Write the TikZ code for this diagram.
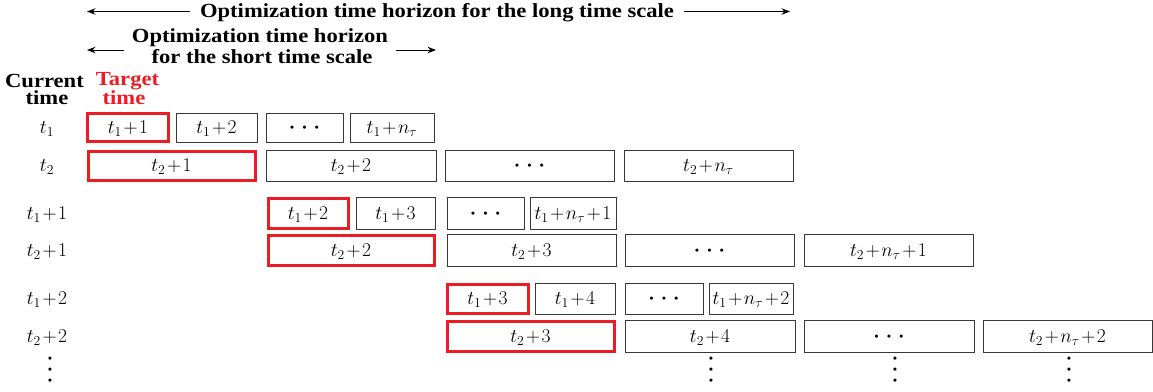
\RequirePackage{fix-cm}
\documentclass[tikz,border=0pt]{standalone}
\usepackage{fontspec}
\newfontfamily\hdrfont{Liberation Serif}[FakeStretch=1.13]
\usetikzlibrary{arrows.meta}
\definecolor{tred}{RGB}{237,28,36}
\newcommand{\pl}{\mkern1.5mu{+}\mkern1.5mu}
\newcommand{\sdot}{{\fontsize{7.5}{7.5}\selectfont$\bullet$}}
\newcommand{\hdotz}{\raisebox{4pt}{\sdot\kern8pt\sdot\kern8pt\sdot}}
\newcommand{\vdotz}{\vbox{\baselineskip=11pt\lineskiplimit=-100pt\hbox{\sdot}\hbox{\sdot}\hbox{\sdot}}}
\begin{document}
\begin{tikzpicture}[x=1pt,y=-1pt,
  hdr/.style={font=\hdrfont\bfseries\fontsize{20}{21.5}\selectfont, inner sep=0pt},
  bx/.style={draw=black!78, line width=0.95pt, inner sep=0pt, text height=13.5pt, text depth=1pt, font=\fontsize{19.5}{21}\selectfont},
  rbx/.style={bx, draw=tred, line width=3pt},
  lbl/.style={inner sep=0pt, text height=13.5pt, text depth=1pt, font=\fontsize{19.5}{21}\selectfont},
  arr/.style={-{Stealth[length=8.5pt,width=6.5pt]}, line width=1pt},
  vd/.style={inner sep=0pt}]
\useasboundingbox (0,0) rectangle (1153,391);

% headers
\node[hdr, anchor=base, inner xsep=10pt] (lt) at (437,17) {Optimization time horizon for the long time scale};
\coordinate (ltl) at (87,11.5);
\coordinate (ltr) at (790,11.5);
\draw[arr] (lt.west |- ltl) -- (ltl);
\draw[arr] (lt.east |- ltr) -- (ltr);

\node[hdr, anchor=base, inner xsep=8pt] (sh1) at (260,42) {Optimization time horizon};
\node[hdr, anchor=base] (sh2) at (262,63.5) {for the short time scale};
\coordinate (shl) at (87,50);
\coordinate (shr) at (436,50);
\draw[arr] (sh1.west |- shl) -- (shl);
\draw[arr] (sh1.east |- shr) -- (shr);

\node[hdr, anchor=base] (cur1) at (44.5,87) {Current};
\node[hdr, anchor=base, text height=12pt] (cur2) at (47,104) {time};
\node[hdr, anchor=base, text=tred] (tg1) at (127.5,85) {Target};
\node[hdr, anchor=base, text=tred, text height=12pt] (tg2) at (124,104) {time};

% left labels
\node[lbl] (l1) at (47,127.5) {$t_1$};
\node[lbl] (l2) at (47,165.5) {$t_2$};
\node[lbl] (l3) at (47,213) {$t_1\pl1$};
\node[lbl] (l4) at (47,250) {$t_2\pl1$};
\node[lbl] (l5) at (47,298.5) {$t_1\pl2$};
\node[lbl] (l6) at (47,336) {$t_2\pl2$};

% row 1
\node[rbx, minimum width=81pt, minimum height=28pt] (a1) at (128,127.5) {$t_1\pl1$};
\node[bx, minimum width=81pt, minimum height=29pt] (a2) at (216.5,127.5) {$t_1\pl2$};
\node[bx, minimum width=77pt, minimum height=29pt] (a3) at (304.5,127.5) {\hdotz};
\node[bx, minimum width=84pt, minimum height=29pt] (a4) at (392,127.5) {$t_1\pl n_\tau$};
% row 2
\node[rbx, minimum width=167pt, minimum height=29pt] (b1) at (171.5,165.5) {$t_2\pl1$};
\node[bx, minimum width=170pt, minimum height=31pt] (b2) at (351,165.5) {$t_2\pl2$};
\node[bx, minimum width=169pt, minimum height=31pt] (b3) at (529.5,165.5) {\hdotz};
\node[bx, minimum width=169pt, minimum height=31pt] (b4) at (708.5,165.5) {$t_2\pl n_\tau$};
% row 3
\node[rbx, minimum width=80pt, minimum height=30pt] (c1) at (308,213) {$t_1\pl2$};
\node[bx, minimum width=79pt, minimum height=32pt] (c2) at (395.5,213) {$t_1\pl3$};
\node[bx, minimum width=77pt, minimum height=32pt] (c3) at (485.5,213) {\hdotz};
\node[bx, minimum width=86pt, minimum height=32pt] (c4) at (573,213) {$t_1\pl n_\tau\pl1$};
% row 4
\node[rbx, minimum width=166pt, minimum height=30pt] (d1) at (351,250) {$t_2\pl2$};
\node[bx, minimum width=169pt, minimum height=32pt] (d2) at (531.5,250) {$t_2\pl3$};
\node[bx, minimum width=169pt, minimum height=32pt] (d3) at (709.5,250) {\hdotz};
\node[bx, minimum width=169pt, minimum height=32pt] (d4) at (888.5,250) {$t_2\pl n_\tau\pl1$};
% row 5
\node[rbx, minimum width=81pt, minimum height=29pt] (e1) at (487.5,298.5) {$t_1\pl3$};
\node[bx, minimum width=80pt, minimum height=31pt] (e2) at (575,298.5) {$t_1\pl4$};
\node[bx, minimum width=78pt, minimum height=31pt] (e3) at (664,298.5) {\hdotz};
\node[bx, minimum width=84pt, minimum height=31pt] (e4) at (751,298.5) {$t_1\pl n_\tau\pl2$};
% row 6
\node[rbx, minimum width=167pt, minimum height=30pt] (f1) at (530.5,336) {$t_2\pl3$};
\node[bx, minimum width=170pt, minimum height=32pt] (f2) at (710,336) {$t_2\pl4$};
\node[bx, minimum width=170pt, minimum height=32pt] (f3) at (889,336) {\hdotz};
\node[bx, minimum width=169pt, minimum height=32pt] (f4) at (1067.5,336) {$t_2\pl n_\tau\pl2$};

% vertical dots
\node[vd] (v1) at (50,370) {\vdotz};
\node[vd] (v2) at (711,370) {\vdotz};
\node[vd] (v3) at (895,370) {\vdotz};
\node[vd] (v4) at (1069,370) {\vdotz};
\end{tikzpicture}
\end{document}
